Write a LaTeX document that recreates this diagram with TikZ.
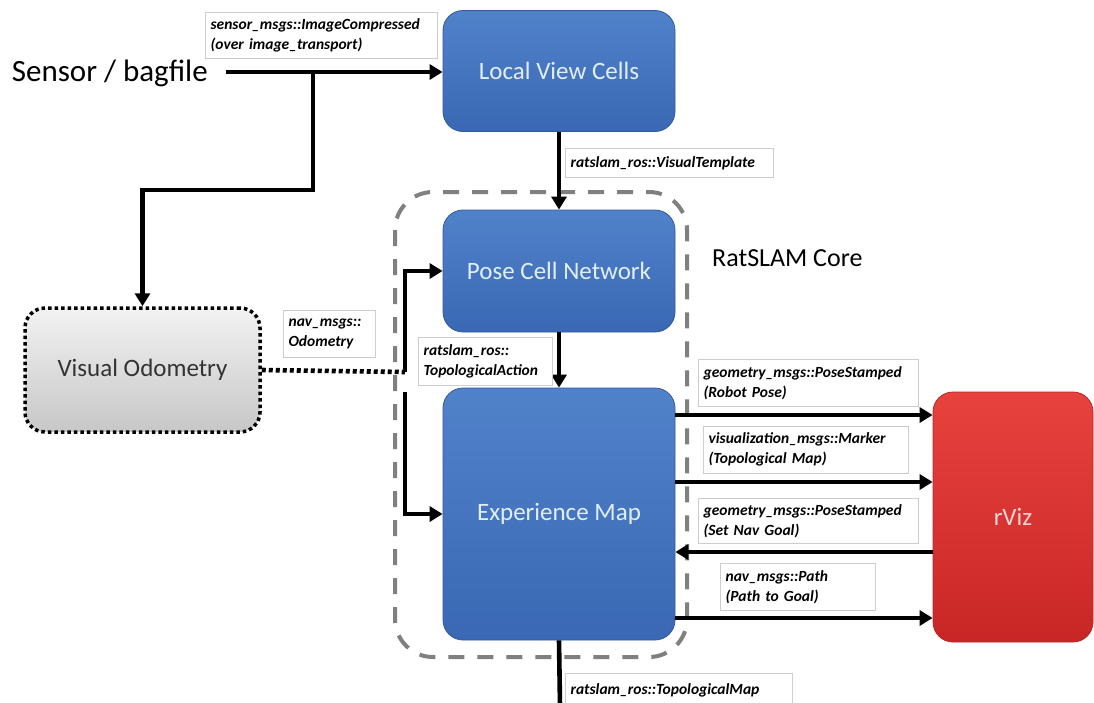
\documentclass[tikz,border=0pt]{standalone}
\usepackage{fontspec}
\setmainfont{Carlito}
\usetikzlibrary{arrows.meta,calc}
\definecolor{bluetop}{RGB}{80,130,202}
\definecolor{bluebot}{RGB}{58,104,180}
\definecolor{blueedge}{RGB}{50,90,155}
\definecolor{redtop}{RGB}{232,66,62}
\definecolor{redbot}{RGB}{200,38,38}
\definecolor{rededge}{RGB}{180,40,40}
\definecolor{boxtext}{RGB}{225,238,250}
\definecolor{redtext}{RGB}{250,215,210}
\definecolor{coregray}{RGB}{128,128,128}
\definecolor{lblborder}{RGB}{205,205,205}
\tikzset{
  bluebox/.style={rectangle, rounded corners=20pt, draw=blueedge, line width=0.8pt,
    top color=bluetop, bottom color=bluebot, text=boxtext,
    font=\fontsize{25}{30}\selectfont, minimum width=232pt},
  redbox/.style={rectangle, rounded corners=20pt, draw=rededge, line width=0.8pt,
    top color=redtop, bottom color=redbot, text=redtext,
    font=\fontsize{25}{30}\selectfont, minimum width=160pt, minimum height=250pt},
  grayboxd/.style={rectangle, rounded corners=20pt, draw=black, line width=3.5pt,
    dash pattern=on 3.5pt off 3pt, top color=white!95!black, bottom color=black!22,
    text=black!80, font=\fontsize{25}{30}\selectfont, minimum width=235pt, minimum height=124pt},
  lbl/.style={rectangle, draw=lblborder, line width=0.6pt, fill=white, anchor=north west,
    align=left, inner xsep=5pt, inner ysep=3pt,
    font=\fontsize{15.5}{20}\selectfont\bfseries\itshape},
  arr/.style={line width=4.6pt, -{Triangle[length=13pt,width=15pt]}},
  plain/.style={line width=4.6pt},
  dotline/.style={line width=4.6pt, dash pattern=on 4pt off 3pt},
  core/.style={draw=coregray, line width=4pt, dash pattern=on 16pt off 13pt, rounded corners=38pt},
}
\newcommand{\lblnode}[6]{% name, x, y, w, h, text
  \node[lbl, minimum width=#4pt, minimum height=#5pt, text width=#4pt-10pt-0.6pt] (#1) at (#2,#3) {#6};}
\begin{document}
\begin{tikzpicture}[x=1pt,y=-1pt]
\useasboundingbox (0,0) rectangle (1094,702);
\fill[white] (0,0) rectangle (1094,702);

% RatSLAM core boundary
\draw[core] (395,192) rectangle (687,657);
\node[anchor=west, font=\fontsize{26}{30}\selectfont, inner sep=0pt] (corelbl) at (712,258) {RatSLAM Core};

% main nodes
\node[bluebox, minimum height=121pt] (lvc) at (559,71) {Local View Cells};
\node[bluebox, minimum height=122pt] (pcn) at (559,271) {Pose Cell Network};
\node[bluebox, minimum height=252pt] (em) at (559,514) {Experience Map};
\node[redbox] (rviz) at (1013,517) {rViz};
\node[grayboxd] (vo) at (142.5,370) {Visual Odometry};
\node[anchor=east, font=\fontsize{31}{36}\selectfont, inner sep=0pt] (sensor) at (208,73) {Sensor / bagfile};

% coordinates
\coordinate (br) at (313,72);
\coordinate (j) at (405,372);
\coordinate (jl) at (405,392);
\coordinate (out) at (560,706);
\coordinate (ya) at (0,415);
\coordinate (yb) at (0,482);
\coordinate (yc) at (0,552);
\coordinate (yd) at (0,618);
\coordinate (ys) at (0,72);

% connectors
\draw[arr] (sensor.east |- ys) ++(18,0) -- (lvc.west |- ys);
\draw[arr] (br) -- ++(0,118) -| (vo.north);
\draw[arr] (lvc.south) -- (pcn.north);
\draw[arr] (pcn.south) -- (em.north);
\draw[dotline] (vo.east) -- (j);
\draw[arr] (j) |- (pcn.west);
\draw[arr] (jl) |- (em.west);
\draw[arr] (em.east |- ya) -- (rviz.west |- ya);
\draw[arr] (em.east |- yb) -- (rviz.west |- yb);
\draw[arr] (rviz.west |- yc) -- (em.east |- yc);
\draw[arr] (em.east |- yd) -- (rviz.west |- yd);
\draw[plain] (em.south) -- (out);

% labels
\lblnode{l1}{205}{12}{232}{46}{sensor\_msgs::ImageCompressed\\(over image\_transport)}
\lblnode{l2}{565}{148}{208}{29}{ratslam\_ros::VisualTemplate}
\lblnode{l3}{283}{310}{92}{47}{nav\_msgs::\\Odometry}
\lblnode{l4}{418}{337}{134}{48}{ratslam\_ros::\\TopologicalAction}
\lblnode{l5}{698}{359}{220}{47}{geometry\_msgs::PoseStamped\\(Robot Pose)}
\lblnode{l6}{703}{426}{205}{47}{visualization\_msgs::Marker\\(Topological Map)}
\lblnode{l7}{698}{498}{220}{45}{geometry\_msgs::PoseStamped\\(Set Nav Goal)}
\lblnode{l8}{720}{563}{155}{47}{nav\_msgs::Path\\(Path to Goal)}
\lblnode{l9}{565}{673}{227}{34}{ratslam\_ros::TopologicalMap}
\end{tikzpicture}
\end{document}
